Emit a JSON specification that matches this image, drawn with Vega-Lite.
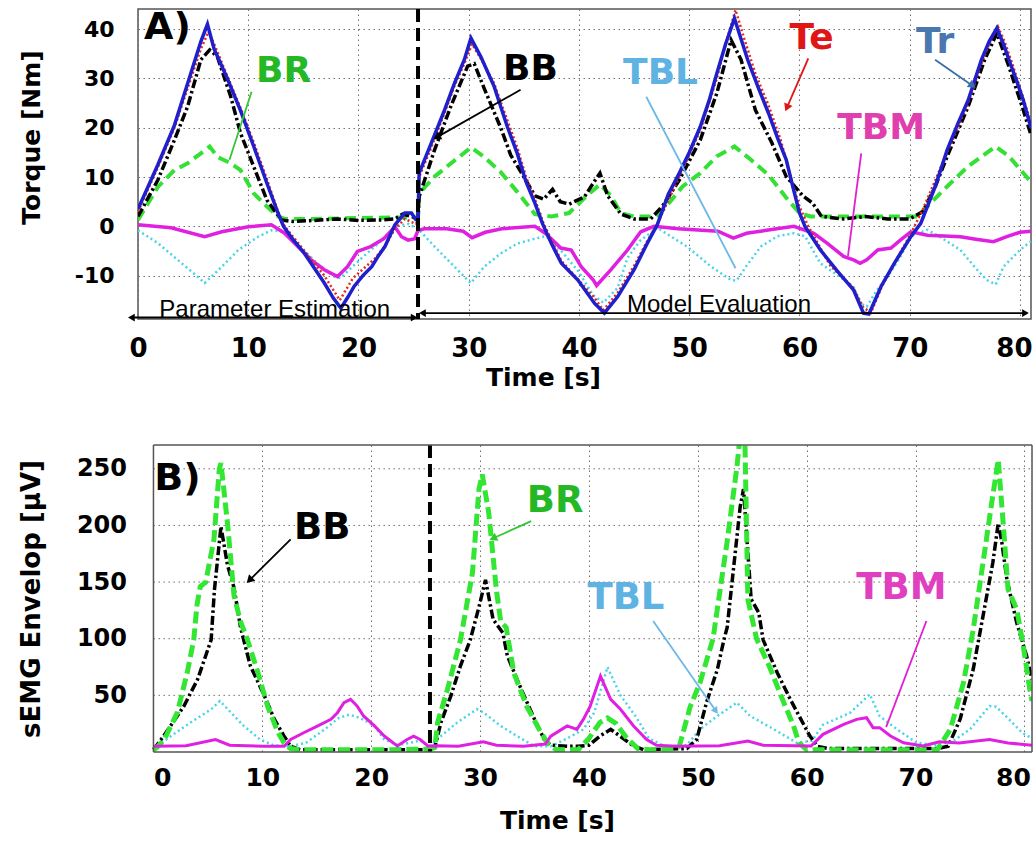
{
  "$schema": "https://vega.github.io/schema/vega-lite/v6.json",
  "padding": {"left": 17, "top": 6, "right": 0, "bottom": 0},
  "spacing": 52,
  "columns": 1,
  "resolve": {"scale": {"x": "independent", "y": "independent", "fill": "independent", "stroke": "independent"}},
  "config": {
    "font": "DejaVu Sans",
    "view": {"stroke": "#555555", "strokeWidth": 1.5},
    "axis": {
      "grid": true, "gridColor": "#707070", "gridDash": [1.5, 3.5], "gridWidth": 1,
      "domain": false, "ticks": false, "labelFlush": false, "labelOverlap": false,
      "labelFont": "DejaVu Sans", "labelFontWeight": "bold", "labelColor": "#000",
      "titleFont": "DejaVu Sans", "titleFontWeight": "bold", "titleColor": "#000"
    }
  },
  "datasets": {
    "A_Tr": [{"t":0,"v":3.5},{"t":1,"v":8.5},{"t":1.8,"v":12.5},{"t":3.3,"v":20.5},{"t":4.5,"v":29},{"t":5.7,"v":37.5},{"t":6.3,"v":41},{"t":6.9,"v":36},{"t":8.1,"v":30},{"t":9.3,"v":23.5},{"t":10.5,"v":16.2},{"t":11.7,"v":8.7},{"t":12.7,"v":2.7},{"t":13.2,"v":0},{"t":14,"v":-2.5},{"t":15.1,"v":-5.5},{"t":16,"v":-8.5},{"t":16.9,"v":-11.5},{"t":17.7,"v":-14.5},{"t":18.4,"v":-16.6},{"t":19,"v":-14.5},{"t":19.6,"v":-12.2},{"t":20.4,"v":-10},{"t":21.2,"v":-8.2},{"t":21.8,"v":-6},{"t":22.4,"v":-4.1},{"t":23.3,"v":0.3},{"t":24.2,"v":2.7},{"t":24.8,"v":2.7},{"t":25.2,"v":1.4},{"t":25.4,"v":1.5},{"t":25.5,"v":10.8},{"t":26.6,"v":16.9},{"t":27.8,"v":23.6},{"t":28.7,"v":29},{"t":29.6,"v":33.8},{"t":30.2,"v":38.2},{"t":31.1,"v":34.4},{"t":32.3,"v":28.4},{"t":33.5,"v":20.2},{"t":34.4,"v":14.8},{"t":35.2,"v":9},{"t":36,"v":4.7},{"t":36.7,"v":0.5},{"t":37.5,"v":-3.5},{"t":38.4,"v":-7.5},{"t":39.9,"v":-10.9},{"t":41.4,"v":-15.6},{"t":42.3,"v":-17.6},{"t":43.5,"v":-14.3},{"t":45,"v":-8.8},{"t":46.2,"v":-3.4},{"t":47.1,"v":0.3},{"t":48.1,"v":6.5},{"t":49.1,"v":10.8},{"t":50,"v":15},{"t":51,"v":20.2},{"t":51.8,"v":25.5},{"t":52.5,"v":31},{"t":53.3,"v":37},{"t":54.1,"v":42.2},{"t":54.7,"v":38},{"t":55.3,"v":33.8},{"t":56.2,"v":28.5},{"t":57.2,"v":22.9},{"t":58,"v":18},{"t":58.8,"v":13.5},{"t":59.4,"v":8},{"t":60,"v":2.7},{"t":60.5,"v":0},{"t":61.9,"v":-4.8},{"t":63.4,"v":-9},{"t":64.9,"v":-12.9},{"t":65.8,"v":-17.6},{"t":66.3,"v":-17.8},{"t":67.4,"v":-12.2},{"t":68.6,"v":-7.5},{"t":70.1,"v":-2.1},{"t":71,"v":0.6},{"t":72.3,"v":8},{"t":73.4,"v":15.5},{"t":74.3,"v":20.5},{"t":75.3,"v":25.6},{"t":76.5,"v":33.8},{"t":77.2,"v":37.5},{"t":77.9,"v":40.2},{"t":78.5,"v":37},{"t":79,"v":33.8},{"t":79.7,"v":29.5},{"t":80.3,"v":25.6},{"t":81,"v":20}],
    "A_Te": [{"t":0,"v":3},{"t":1.8,"v":12},{"t":3.3,"v":20},{"t":4.5,"v":28},{"t":5.7,"v":36},{"t":6.4,"v":39.5},{"t":7,"v":36.5},{"t":8.1,"v":30.5},{"t":9.3,"v":24},{"t":10.5,"v":17},{"t":11.7,"v":9.5},{"t":12.7,"v":3},{"t":13.3,"v":0},{"t":15.1,"v":-5},{"t":16.9,"v":-10},{"t":18.3,"v":-15},{"t":19.5,"v":-10.5},{"t":20.5,"v":-8.5},{"t":21.5,"v":-6.5},{"t":22.4,"v":-4},{"t":23.3,"v":-0.5},{"t":24.2,"v":1.5},{"t":25.2,"v":0.5},{"t":25.4,"v":1},{"t":25.5,"v":10},{"t":26.6,"v":16},{"t":27.8,"v":23},{"t":28.7,"v":28.5},{"t":29.6,"v":33},{"t":30.3,"v":37},{"t":31.1,"v":34},{"t":32.3,"v":29},{"t":33.5,"v":21.5},{"t":34.4,"v":16},{"t":35.2,"v":10},{"t":36,"v":5.5},{"t":36.8,"v":0.5},{"t":38.4,"v":-7},{"t":40,"v":-11},{"t":41.4,"v":-14.5},{"t":42.2,"v":-17},{"t":43.5,"v":-13.5},{"t":45,"v":-8},{"t":46.2,"v":-3},{"t":47.1,"v":0.5},{"t":49.1,"v":10},{"t":51,"v":19.5},{"t":52.5,"v":30},{"t":53.3,"v":37},{"t":54.2,"v":43.9},{"t":55,"v":38},{"t":56,"v":31},{"t":57.2,"v":24.5},{"t":58.3,"v":17.5},{"t":59.2,"v":10},{"t":60,"v":4},{"t":60.8,"v":0},{"t":62.8,"v":-8},{"t":64.9,"v":-12.5},{"t":65.8,"v":-16.5},{"t":66.5,"v":-17.5},{"t":67.4,"v":-12.5},{"t":68.6,"v":-7.5},{"t":70.1,"v":-1.5},{"t":71.2,"v":3.5},{"t":73.4,"v":15},{"t":75.3,"v":25},{"t":76.5,"v":33},{"t":77.3,"v":37.5},{"t":78,"v":40.5},{"t":78.6,"v":37.5},{"t":79.3,"v":33},{"t":80.3,"v":26},{"t":81,"v":21}],
    "A_BB": [{"t":0,"v":2},{"t":1.8,"v":9.4},{"t":3.3,"v":17.5},{"t":4.5,"v":24.3},{"t":5.7,"v":33.8},{"t":6.5,"v":35.8},{"t":7.2,"v":34.4},{"t":8.4,"v":26.4},{"t":9.3,"v":18.9},{"t":10.5,"v":12.1},{"t":11.7,"v":5.3},{"t":13,"v":1.3},{"t":14,"v":1},{"t":16,"v":1.2},{"t":18,"v":1.5},{"t":20,"v":1.2},{"t":22,"v":1.3},{"t":23.3,"v":1.5},{"t":24,"v":2.5},{"t":24.8,"v":2},{"t":25.4,"v":1.5},{"t":25.5,"v":6},{"t":26.9,"v":15.5},{"t":28.4,"v":24.5},{"t":29.9,"v":32.5},{"t":30.5,"v":33},{"t":31.4,"v":28},{"t":32.9,"v":20},{"t":33.8,"v":14.5},{"t":34.8,"v":10.8},{"t":36,"v":6.2},{"t":36.8,"v":5.5},{"t":37.6,"v":7.5},{"t":38.3,"v":5},{"t":39.1,"v":4.5},{"t":40.5,"v":6},{"t":41.3,"v":8.8},{"t":41.9,"v":10.8},{"t":42.6,"v":6.2},{"t":43.8,"v":2.5},{"t":45,"v":1.5},{"t":46.5,"v":1.5},{"t":47.6,"v":4.2},{"t":49.1,"v":9.4},{"t":51,"v":17.5},{"t":52.5,"v":27},{"t":53.8,"v":37.8},{"t":54.7,"v":33.8},{"t":56,"v":23.6},{"t":57.5,"v":16.9},{"t":58.8,"v":10.1},{"t":60.3,"v":6.2},{"t":61.2,"v":4.7},{"t":62,"v":2},{"t":64,"v":1.5},{"t":66,"v":2},{"t":68,"v":1.5},{"t":70,"v":1.5},{"t":71.2,"v":3},{"t":72.3,"v":8},{"t":73.4,"v":14.2},{"t":75.3,"v":24.3},{"t":76.8,"v":33.8},{"t":77.9,"v":39.2},{"t":79,"v":32.4},{"t":80.3,"v":23.6},{"t":81,"v":18.5}],
    "A_BR": [{"t":0,"v":1.3},{"t":1.8,"v":8},{"t":3.3,"v":11.4},{"t":4.5,"v":12.8},{"t":5.7,"v":14.8},{"t":6.5,"v":16.2},{"t":7.2,"v":14.1},{"t":8.4,"v":12.8},{"t":9.3,"v":11.4},{"t":10.5,"v":6.7},{"t":11.7,"v":4},{"t":12.7,"v":2},{"t":13.3,"v":1.5},{"t":16,"v":1.5},{"t":20,"v":1.7},{"t":24,"v":1.8},{"t":25.4,"v":1.8},{"t":25.5,"v":6.7},{"t":26.9,"v":10.1},{"t":28.4,"v":12.8},{"t":30.2,"v":16},{"t":31.4,"v":14.1},{"t":32.9,"v":11},{"t":34.4,"v":7},{"t":36,"v":2.5},{"t":37.5,"v":2},{"t":39.1,"v":2.7},{"t":40.7,"v":6.2},{"t":41.9,"v":8.5},{"t":42.9,"v":6.2},{"t":43.8,"v":2.7},{"t":45,"v":2},{"t":47,"v":2},{"t":47.9,"v":4},{"t":49.4,"v":8.1},{"t":51,"v":10.8},{"t":52.5,"v":14.2},{"t":54.1,"v":16.2},{"t":55.6,"v":13.5},{"t":57.2,"v":10.4},{"t":58.8,"v":5.8},{"t":60,"v":2.7},{"t":61,"v":2},{"t":65,"v":2},{"t":70.7,"v":2},{"t":72.5,"v":6.1},{"t":73.4,"v":8.1},{"t":75.3,"v":12.2},{"t":77.8,"v":16.2},{"t":79,"v":14.2},{"t":81,"v":9}],
    "A_TBL": [{"t":0,"v":-0.8},{"t":1.8,"v":-3.4},{"t":3.6,"v":-6.8},{"t":5.4,"v":-10.2},{"t":6.05,"v":-11.5},{"t":7.6,"v":-8.2},{"t":9.1,"v":-4.8},{"t":10.9,"v":-2.1},{"t":12.1,"v":-0.8},{"t":13,"v":-1},{"t":14,"v":-2.5},{"t":15.1,"v":-5},{"t":16.5,"v":-8},{"t":17.8,"v":-10.2},{"t":18.4,"v":-10.5},{"t":19.3,"v":-8.5},{"t":20.5,"v":-6},{"t":21.8,"v":-3.5},{"t":23.3,"v":0},{"t":24.5,"v":0.5},{"t":25.4,"v":-0.5},{"t":26.9,"v":-4.1},{"t":28.4,"v":-7.5},{"t":29.9,"v":-10.9},{"t":30.2,"v":-11.5},{"t":31.4,"v":-8.2},{"t":32.9,"v":-5.5},{"t":34.4,"v":-3.5},{"t":36,"v":-2.5},{"t":37,"v":-2},{"t":38.4,"v":-5},{"t":39.9,"v":-9},{"t":41.3,"v":-14},{"t":42.2,"v":-15.5},{"t":43.5,"v":-12.5},{"t":44.4,"v":-6.4},{"t":45.5,"v":-3},{"t":47.1,"v":-0.3},{"t":49.8,"v":-4.1},{"t":52,"v":-8.2},{"t":53.8,"v":-10.9},{"t":54.3,"v":-11},{"t":55.2,"v":-8},{"t":56.5,"v":-4.1},{"t":58,"v":-2},{"t":59.5,"v":-1.4},{"t":60.5,"v":-2},{"t":61.9,"v":-7.5},{"t":63.5,"v":-10},{"t":64.9,"v":-12.2},{"t":65.5,"v":-15.6},{"t":66.1,"v":-16.3},{"t":67,"v":-13},{"t":68,"v":-10.2},{"t":69.2,"v":-6},{"t":70.1,"v":-2},{"t":71.6,"v":-0.7},{"t":73,"v":-2.5},{"t":74.6,"v":-4.8},{"t":76.1,"v":-8.8},{"t":77,"v":-10.9},{"t":77.8,"v":-11.8},{"t":78.5,"v":-8.2},{"t":80,"v":-4.8},{"t":81,"v":-3}],
    "A_TBM": [{"t":0,"v":0.3},{"t":3,"v":-0.3},{"t":6.05,"v":-2.1},{"t":7.6,"v":-1.1},{"t":10,"v":-0.1},{"t":12.1,"v":0.3},{"t":13.3,"v":-1.4},{"t":14.5,"v":-4.1},{"t":15.7,"v":-6.8},{"t":16.9,"v":-8.8},{"t":18.1,"v":-10.2},{"t":19,"v":-8.2},{"t":19.9,"v":-5.1},{"t":21.1,"v":-4.1},{"t":22.3,"v":-2.5},{"t":23.3,"v":-0.1},{"t":23.9,"v":-2.1},{"t":24.5,"v":-2.8},{"t":25.1,"v":-2.5},{"t":25.4,"v":-0.8},{"t":26,"v":-0.5},{"t":28,"v":-0.5},{"t":29.5,"v":-1},{"t":30.3,"v":-2.3},{"t":31.5,"v":-1.2},{"t":33,"v":-0.5},{"t":36,"v":0},{"t":37,"v":-1.5},{"t":38.35,"v":-4.4},{"t":39.3,"v":-4.8},{"t":40.2,"v":-8.2},{"t":41.3,"v":-10.9},{"t":41.6,"v":-12},{"t":42.9,"v":-8.8},{"t":44.4,"v":-4.8},{"t":45.6,"v":-1.1},{"t":46.8,"v":0},{"t":49,"v":-0.5},{"t":52.6,"v":-1},{"t":54,"v":-2.4},{"t":55.2,"v":-1.4},{"t":57,"v":-0.8},{"t":59.5,"v":0},{"t":61.3,"v":-1.4},{"t":62.5,"v":-3.4},{"t":64,"v":-6.1},{"t":64.9,"v":-6.8},{"t":65.5,"v":-7.5},{"t":66.1,"v":-6.8},{"t":67.1,"v":-4.8},{"t":68.3,"v":-4.4},{"t":69.2,"v":-2.7},{"t":70.1,"v":-1.1},{"t":71.6,"v":-1.8},{"t":74.6,"v":-2.1},{"t":76,"v":-2.6},{"t":77.6,"v":-3.1},{"t":78.8,"v":-2.1},{"t":80,"v":-1.2},{"t":81,"v":-1}],
    "B_BR": [{"t":0,"v":2},{"t":0.3,"v":4},{"t":1,"v":11},{"t":2.2,"v":35},{"t":3.1,"v":70},{"t":3.7,"v":99},{"t":4,"v":130},{"t":4.3,"v":146},{"t":4.8,"v":150},{"t":5.56,"v":188},{"t":6.05,"v":250},{"t":6.2,"v":255},{"t":6.8,"v":202},{"t":7.4,"v":138},{"t":8,"v":115},{"t":8.6,"v":100},{"t":9.6,"v":70},{"t":10.5,"v":40},{"t":11.4,"v":18},{"t":12,"v":8},{"t":12.6,"v":3},{"t":13.5,"v":2},{"t":18,"v":2},{"t":22,"v":2},{"t":25.4,"v":2.5},{"t":25.85,"v":4},{"t":26.1,"v":26},{"t":27,"v":55},{"t":27.9,"v":88},{"t":28.2,"v":99},{"t":29.3,"v":158},{"t":29.9,"v":232},{"t":30.2,"v":245},{"t":30.8,"v":211},{"t":31.5,"v":143},{"t":31.9,"v":115},{"t":32.4,"v":110},{"t":33.1,"v":70},{"t":34.3,"v":40},{"t":35.6,"v":17},{"t":36.2,"v":8},{"t":37,"v":2},{"t":39,"v":2},{"t":40,"v":12},{"t":41,"v":26},{"t":41.7,"v":30},{"t":42.5,"v":25},{"t":43.5,"v":12},{"t":44.5,"v":3},{"t":45.5,"v":2},{"t":48,"v":3},{"t":48.3,"v":5},{"t":49.3,"v":40},{"t":50.2,"v":61},{"t":51.4,"v":100},{"t":52.7,"v":186},{"t":53.6,"v":252},{"t":54,"v":290},{"t":54.3,"v":290},{"t":54.6,"v":134.7},{"t":55.4,"v":100},{"t":56.6,"v":75},{"t":57.9,"v":43.6},{"t":58.8,"v":23},{"t":59.3,"v":8},{"t":60,"v":2},{"t":66,"v":2},{"t":72,"v":2},{"t":73.2,"v":20},{"t":74.4,"v":61},{"t":75.3,"v":108},{"t":76.2,"v":167},{"t":77,"v":220},{"t":77.6,"v":258},{"t":78.1,"v":196},{"t":78.5,"v":143.5},{"t":79.3,"v":126},{"t":79.9,"v":93.5},{"t":80.5,"v":55},{"t":80.7,"v":45}],
    "B_BB": [{"t":0,"v":2},{"t":0.7,"v":11},{"t":1.5,"v":22},{"t":2.8,"v":40.6},{"t":4.05,"v":64},{"t":5.3,"v":99},{"t":5.6,"v":143},{"t":6.2,"v":199},{"t":6.8,"v":165},{"t":7.4,"v":145},{"t":8,"v":110},{"t":8.9,"v":76},{"t":10.2,"v":49.4},{"t":11.1,"v":29},{"t":12,"v":14},{"t":12.6,"v":5},{"t":13.5,"v":2},{"t":20,"v":2},{"t":25.4,"v":2},{"t":25.85,"v":4},{"t":26.4,"v":26},{"t":27.3,"v":49},{"t":28.2,"v":76},{"t":29.1,"v":99},{"t":29.9,"v":128},{"t":30.5,"v":152},{"t":31.2,"v":117},{"t":32.1,"v":105},{"t":32.5,"v":85},{"t":33.8,"v":55},{"t":35,"v":29},{"t":35.9,"v":11},{"t":36.5,"v":6},{"t":38,"v":5},{"t":39,"v":5},{"t":40,"v":6},{"t":41,"v":14},{"t":42,"v":20},{"t":43,"v":13},{"t":44,"v":6},{"t":45,"v":2},{"t":49,"v":3},{"t":49.9,"v":11},{"t":50.8,"v":43.6},{"t":51.8,"v":73},{"t":52.4,"v":99},{"t":52.7,"v":110},{"t":53.9,"v":217},{"t":54.2,"v":232},{"t":54.9,"v":135},{"t":55.6,"v":123},{"t":56,"v":99},{"t":57.3,"v":70},{"t":58.5,"v":46.5},{"t":59.3,"v":32},{"t":60.3,"v":14},{"t":61,"v":5},{"t":62,"v":3},{"t":72,"v":3},{"t":73,"v":5},{"t":74.1,"v":29},{"t":75.3,"v":73},{"t":76.2,"v":120},{"t":77.1,"v":167},{"t":77.6,"v":202},{"t":77.9,"v":187},{"t":78.4,"v":152},{"t":79.3,"v":114},{"t":80.2,"v":85},{"t":80.7,"v":64}],
    "B_TBL": [{"t":0,"v":3},{"t":1.6,"v":14},{"t":3.4,"v":26},{"t":5.3,"v":37.7},{"t":6.1,"v":45},{"t":7.1,"v":35},{"t":8.3,"v":23},{"t":9.8,"v":11},{"t":11,"v":6},{"t":12.5,"v":5},{"t":14,"v":8},{"t":15,"v":15},{"t":16,"v":22},{"t":17,"v":30},{"t":18,"v":33},{"t":19,"v":30},{"t":20.3,"v":23},{"t":21.2,"v":11},{"t":22.5,"v":6},{"t":23.5,"v":8},{"t":24.5,"v":10},{"t":25.4,"v":5},{"t":26.4,"v":14},{"t":27.9,"v":26},{"t":29.7,"v":37.7},{"t":30.3,"v":35},{"t":31.9,"v":23},{"t":33.4,"v":14},{"t":35,"v":5},{"t":36.5,"v":5},{"t":38,"v":12},{"t":39.5,"v":20},{"t":40.5,"v":35},{"t":41.7,"v":75},{"t":42.9,"v":50},{"t":44.4,"v":30},{"t":45.5,"v":12},{"t":47,"v":5},{"t":49,"v":6},{"t":50.2,"v":20},{"t":51.8,"v":31.8},{"t":53.6,"v":43.6},{"t":54.8,"v":31.8},{"t":57,"v":20},{"t":59.1,"v":8},{"t":60.5,"v":10},{"t":61.5,"v":24},{"t":64,"v":34.7},{"t":65.8,"v":50.9},{"t":66.7,"v":31.8},{"t":68.3,"v":20},{"t":70.1,"v":8.2},{"t":72,"v":6},{"t":73.5,"v":10},{"t":75,"v":20},{"t":76.8,"v":40.6},{"t":77.4,"v":40},{"t":78.6,"v":28.8},{"t":79.8,"v":17},{"t":80.7,"v":12}],
    "B_TBM": [{"t":0,"v":5},{"t":3,"v":5.5},{"t":5.7,"v":11},{"t":7,"v":6},{"t":10,"v":5},{"t":12,"v":5},{"t":12.6,"v":11},{"t":13.8,"v":17},{"t":15.1,"v":23},{"t":16.3,"v":28.8},{"t":16.9,"v":34.7},{"t":17.5,"v":43.6},{"t":18.1,"v":46.5},{"t":18.7,"v":40.6},{"t":19.3,"v":31.8},{"t":20.3,"v":23},{"t":21.2,"v":14.1},{"t":22.4,"v":5.3},{"t":23.3,"v":11},{"t":23.9,"v":14},{"t":24.5,"v":11},{"t":25.2,"v":5.3},{"t":26,"v":5.5},{"t":28,"v":5},{"t":30.3,"v":9},{"t":31.5,"v":6},{"t":34,"v":5},{"t":36,"v":7},{"t":36.5,"v":14},{"t":38,"v":23},{"t":38.9,"v":20},{"t":39.5,"v":29},{"t":40.1,"v":40},{"t":41.06,"v":67},{"t":42,"v":46.5},{"t":42.9,"v":37.7},{"t":44.1,"v":23},{"t":45.3,"v":11},{"t":46.2,"v":6},{"t":48,"v":5},{"t":52,"v":5.5},{"t":54.6,"v":9.7},{"t":56,"v":6},{"t":60.4,"v":5.3},{"t":61.5,"v":15.6},{"t":63.4,"v":24.4},{"t":64.6,"v":28.8},{"t":65.5,"v":30.3},{"t":66.1,"v":21.5},{"t":66.7,"v":21.5},{"t":67.7,"v":14.1},{"t":68.9,"v":8.2},{"t":70.7,"v":5.3},{"t":72.2,"v":9},{"t":74,"v":8},{"t":76.8,"v":11},{"t":78.5,"v":8},{"t":80.7,"v":6}],
    "annA": [
      {"label":"BR","t":13.2,"v":31.5,"pt":10.3,"pv":27.3,"pt2":8.3,"pv2":13.5},
      {"label":"BB","t":35.6,"v":32,"pt":34.7,"pv":27.7,"pt2":27.2,"pv2":18.2},
      {"label":"TBL","t":47.4,"v":31.2,"pt":46.1,"pv":26.3,"pt2":54.2,"pv2":-8.5},
      {"label":"Te","t":61.1,"v":38.2,"pt":60.8,"pv":34.1,"pt2":58.9,"pv2":24.3},
      {"label":"Tr","t":72.3,"v":37.4,"pt":72.3,"pv":33.8,"pt2":75.6,"pv2":28.7},
      {"label":"TBM","t":67.4,"v":19.9,"pt":65.6,"pv":14.8,"pt2":64.4,"pv2":-6}
    ],
    "annB": [
      {"label":"BB","t":15.5,"v":197.3,"pt":12.6,"pv":187.7,"pt2":8.9,"pv2":152.4},
      {"label":"BR","t":36.9,"v":221.4,"pt":34.7,"pv":203.8,"pt2":31.3,"pv2":189.1},
      {"label":"TBL","t":43.4,"v":136.2,"pt":45.9,"pv":115.6,"pt2":51.6,"pv2":37},
      {"label":"TBM","t":68.7,"v":144.4,"pt":71,"pv":115.6,"pt2":67.3,"pv2":22}
    ],
    "spans": [
      {"name":"Parameter Estimation","t":-0.6,"t2":25.05,"v":-18.5,"tt":12.4},
      {"name":"Model Evaluation","t":25.8,"t2":80.5,"v":-17.6,"tt":52.7}
    ]
  },
  "concat": [
    {
      "width": 893,
      "height": 310,
      "layer": [
        {
          "data": {"name": "A_TBL"},
          "mark": {"type": "line", "color": "#48d4e8", "strokeWidth": 2.5, "strokeDash": [2, 3], "clip": true},
          "encoding": {
            "x": {"field": "t", "type": "quantitative", "scale": {"domain": [0, 81], "nice": false, "zero": false},
                  "axis": {"values": [0,10,20,30,40,50,60,70,80], "title": "Time [s]", "labelFontSize": 26, "labelPadding": 16,
                           "labelAlign": {"condition": {"test": "datum.value === 80", "value": "right"}, "value": "center"},
                           "labelOffset": {"condition": {"test": "datum.value === 80", "value": 12}, "value": 0},
                           "titleFontSize": 25, "titleX": 405, "titleY": 58, "titleBaseline": "middle"}},
            "y": {"field": "v", "type": "quantitative", "scale": {"domain": [-18.8, 44.1], "nice": false, "zero": false},
                  "axis": {"values": [-10,0,10,20,30,40], "title": "Torque [Nm]", "labelFontSize": 22, "labelPadding": 24, "labelExpr": "datum.value < 0 ? '-' + abs(datum.value) : '' + datum.value", "titleFontSize": 25, "titleX": -107, "titleY": 128, "titleBaseline": "middle"}}
          }
        },
        {"data": {"name": "A_BR"}, "mark": {"type": "line", "color": "#33e033", "strokeWidth": 4, "strokeDash": [11, 6], "clip": true},
         "encoding": {"x": {"field": "t", "type": "quantitative"}, "y": {"field": "v", "type": "quantitative"}}},
        {"data": {"name": "A_TBM"}, "mark": {"type": "line", "color": "#e020e0", "strokeWidth": 3.5, "clip": true},
         "encoding": {"x": {"field": "t", "type": "quantitative"}, "y": {"field": "v", "type": "quantitative"}}},
        {"data": {"name": "A_BB"}, "mark": {"type": "line", "color": "#000000", "strokeWidth": 3.5, "strokeDash": [9, 3, 2.5, 3], "clip": true},
         "encoding": {"x": {"field": "t", "type": "quantitative"}, "y": {"field": "v", "type": "quantitative"}}},
        {"data": {"name": "A_Te"}, "mark": {"type": "line", "color": "#e8251a", "strokeWidth": 2.5, "strokeDash": [2, 2.5], "clip": true},
         "encoding": {"x": {"field": "t", "type": "quantitative"}, "y": {"field": "v", "type": "quantitative"}}},
        {"data": {"name": "A_Tr"}, "mark": {"type": "line", "color": "#1f1fcc", "strokeWidth": 3.5, "clip": true},
         "encoding": {"x": {"field": "t", "type": "quantitative"}, "y": {"field": "v", "type": "quantitative"}}},
        {"data": {"values": [{"t": 25.4}]}, "mark": {"type": "rule", "color": "#000000", "strokeWidth": 4, "strokeDash": [13, 6]},
         "encoding": {"x": {"field": "t", "type": "quantitative"}}},
        {"data": {"name": "annA"}, "mark": {"type": "rule", "strokeWidth": 1.8},
         "encoding": {"x": {"field": "pt", "type": "quantitative"}, "y": {"field": "pv", "type": "quantitative"},
                      "x2": {"field": "pt2"}, "y2": {"field": "pv2"},
                      "stroke": {"field": "label", "type": "nominal", "legend": null,
                                 "scale": {"domain": ["BR","BB","TBL","Te","Tr","TBM"], "range": ["#33c733","#000000","#6cb8e6","#e01515","#3b6ea8","#e020d0"]}}}},
        {"data": {"name": "annA"}, "transform": [{"filter": "datum.label === 'BB'"}], "mark": {"type": "point", "shape": "triangle", "filled": true, "opacity": 1, "size": 80, "angle": 240, "color": "#000000"},
         "encoding": {"x": {"field": "pt2", "type": "quantitative"}, "y": {"field": "pv2", "type": "quantitative"}}},
        {"data": {"name": "annA"}, "transform": [{"filter": "datum.label === 'Te'"}], "mark": {"type": "point", "shape": "triangle", "filled": true, "opacity": 1, "size": 80, "angle": 203, "color": "#e01515"},
         "encoding": {"x": {"field": "pt2", "type": "quantitative"}, "y": {"field": "pv2", "type": "quantitative"}}},
        {"data": {"name": "annA"}, "transform": [{"filter": "datum.label === 'Tr'"}], "mark": {"type": "point", "shape": "triangle", "filled": true, "opacity": 1, "size": 80, "angle": 125, "color": "#3b6ea8"},
         "encoding": {"x": {"field": "pt2", "type": "quantitative"}, "y": {"field": "pv2", "type": "quantitative"}}},
        {"data": {"name": "annA"}, "mark": {"type": "text", "fontSize": 36, "fontWeight": "bold", "font": "DejaVu Sans", "align": "center", "baseline": "middle"},
         "encoding": {"x": {"field": "t", "type": "quantitative"}, "y": {"field": "v", "type": "quantitative"}, "text": {"field": "label"},
                      "fill": {"field": "label", "type": "nominal", "legend": null,
                               "scale": {"domain": ["BR","BB","TBL","Te","Tr","TBM"], "range": ["#25b825","#000000","#5fb3e3","#e01515","#4a77ad","#e03fae"]}}}},
        {"data": {"values": [{"label": "A)", "t": 2.67, "v": 40.2}]}, "mark": {"type": "text", "fontSize": 38, "fontWeight": "bold", "font": "DejaVu Sans", "align": "center", "baseline": "middle", "color": "#000000"},
         "encoding": {"x": {"field": "t", "type": "quantitative"}, "y": {"field": "v", "type": "quantitative"}, "text": {"field": "label"}}},
        {"data": {"name": "spans"}, "mark": {"type": "rule", "color": "#000000", "strokeWidth": 1.8},
         "encoding": {"x": {"field": "t", "type": "quantitative"}, "x2": {"field": "t2"}, "y": {"field": "v", "type": "quantitative"}}},
        {"data": {"name": "spans"}, "mark": {"type": "point", "shape": "triangle-left", "filled": true, "opacity": 1, "size": 60, "color": "#000000"},
         "encoding": {"x": {"field": "t", "type": "quantitative"}, "y": {"field": "v", "type": "quantitative"}}},
        {"data": {"name": "spans"}, "mark": {"type": "point", "shape": "triangle-right", "filled": true, "opacity": 1, "size": 60, "color": "#000000"},
         "encoding": {"x": {"field": "t2", "type": "quantitative"}, "y": {"field": "v", "type": "quantitative"}}},
        {"data": {"name": "spans"}, "mark": {"type": "text", "fontSize": 24, "font": "Liberation Sans", "align": "center", "baseline": "alphabetic", "color": "#000000", "dy": -1},
         "encoding": {"x": {"field": "tt", "type": "quantitative"}, "y": {"field": "v", "type": "quantitative"}, "text": {"field": "name"}}}
      ]
    },
    {
      "width": 894,
      "height": 307,
      "view": {"stroke": null},
      "layer": [
        {"data": {"values": [{"v": 50}, {"v": 100}, {"v": 150}, {"v": 200}, {"v": 250}]},
         "mark": {"type": "rule", "color": "#707070", "strokeWidth": 1, "strokeDash": [1.5, 3.5]},
         "encoding": {"y": {"field": "v", "type": "quantitative"}, "x": {"datum": 0, "type": "quantitative"}, "x2": {"datum": 80.7}}},
        {
          "data": {"name": "B_TBL"},
          "mark": {"type": "line", "color": "#48d4e8", "strokeWidth": 2.5, "strokeDash": [2, 3], "clip": true},
          "encoding": {
            "x": {"field": "t", "type": "quantitative", "scale": {"domain": [-1.42, 80.7], "nice": false, "zero": false},
                  "axis": {"values": [0,10,20,30,40,50,60,70,80], "title": "Time [s]", "labelFontSize": 25, "labelPadding": 13,
                           "labelAlign": {"condition": [{"test": "datum.value === 0", "value": "left"}, {"test": "datum.value === 80", "value": "right"}], "value": "center"},
                           "labelOffset": {"condition": {"test": "datum.value === 80", "value": 6}, "value": 0},
                           "titleFontSize": 25, "titleX": 419, "titleY": 68, "titleBaseline": "middle"}},
            "y": {"field": "v", "type": "quantitative", "scale": {"domain": [0, 271], "nice": false, "zero": false},
                  "axis": {"values": [50,100,150,200,250], "title": "sEMG Envelop [μV]", "grid": false, "offset": -15.5, "labelFontSize": 24, "labelPadding": 27, "titleFontSize": 26, "titleX": -122.5, "titleBaseline": "middle"}}
          }
        },
        {"data": {"name": "B_BB"}, "mark": {"type": "line", "color": "#000000", "strokeWidth": 3.5, "strokeDash": [9, 3, 2.5, 3], "clip": true},
         "encoding": {"x": {"field": "t", "type": "quantitative"}, "y": {"field": "v", "type": "quantitative"}}},
        {"data": {"name": "B_BR"}, "mark": {"type": "line", "color": "#33e633", "strokeWidth": 5, "strokeDash": [12, 5], "clip": true},
         "encoding": {"x": {"field": "t", "type": "quantitative"}, "y": {"field": "v", "type": "quantitative"}}},
        {"data": {"name": "B_TBM"}, "mark": {"type": "line", "color": "#e020e0", "strokeWidth": 3, "clip": true},
         "encoding": {"x": {"field": "t", "type": "quantitative"}, "y": {"field": "v", "type": "quantitative"}}},
        {"data": {"values": [{"t": 25.4}]}, "mark": {"type": "rule", "color": "#000000", "strokeWidth": 4, "strokeDash": [13, 6]},
         "encoding": {"x": {"field": "t", "type": "quantitative"}}},
        {"data": {"values": [{"t": 0}, {"t": 80.7}]}, "mark": {"type": "rule", "color": "#555555", "strokeWidth": 1.5},
         "encoding": {"x": {"field": "t", "type": "quantitative"}}},
        {"data": {"values": [{"v": 0}, {"v": 271}]}, "mark": {"type": "rule", "color": "#555555", "strokeWidth": 1.5},
         "encoding": {"y": {"field": "v", "type": "quantitative"}, "x": {"datum": 0, "type": "quantitative"}, "x2": {"datum": 80.7}}},
        {"data": {"name": "annB"}, "mark": {"type": "rule", "strokeWidth": 1.8},
         "encoding": {"x": {"field": "pt", "type": "quantitative"}, "y": {"field": "pv", "type": "quantitative"},
                      "x2": {"field": "pt2"}, "y2": {"field": "pv2"},
                      "stroke": {"field": "label", "type": "nominal", "legend": null,
                                 "scale": {"domain": ["BR","BB","TBL","TBM"], "range": ["#33c733","#000000","#6cb8e6","#e020d0"]}}}},
        {"data": {"name": "annB"}, "transform": [{"filter": "datum.label === 'BB'"}], "mark": {"type": "point", "shape": "triangle", "filled": true, "opacity": 1, "size": 80, "angle": 225, "color": "#000000"},
         "encoding": {"x": {"field": "pt2", "type": "quantitative"}, "y": {"field": "pv2", "type": "quantitative"}}},
        {"data": {"name": "annB"}, "transform": [{"filter": "datum.label === 'BR'"}], "mark": {"type": "point", "shape": "triangle", "filled": true, "opacity": 1, "size": 80, "angle": 246, "color": "#33c733"},
         "encoding": {"x": {"field": "pt2", "type": "quantitative"}, "y": {"field": "pv2", "type": "quantitative"}}},
        {"data": {"name": "annB"}, "transform": [{"filter": "datum.label === 'TBL'"}], "mark": {"type": "point", "shape": "triangle", "filled": true, "opacity": 1, "size": 60, "angle": 145, "color": "#6cb8e6"},
         "encoding": {"x": {"field": "pt2", "type": "quantitative"}, "y": {"field": "pv2", "type": "quantitative"}}},
        {"data": {"name": "annB"}, "mark": {"type": "text", "fontSize": 37, "fontWeight": "bold", "font": "DejaVu Sans", "align": "center", "baseline": "middle"},
         "encoding": {"x": {"field": "t", "type": "quantitative"}, "y": {"field": "v", "type": "quantitative"}, "text": {"field": "label"},
                      "fill": {"field": "label", "type": "nominal", "legend": null,
                               "scale": {"domain": ["BR","BB","TBL","TBM"], "range": ["#25b825","#000000","#5fb3e3","#e03fc0"]}}}},
        {"data": {"values": [{"label": "B)", "t": 2.2, "v": 240.6}]}, "mark": {"type": "text", "fontSize": 38, "fontWeight": "bold", "font": "DejaVu Sans", "align": "center", "baseline": "middle", "color": "#000000"},
         "encoding": {"x": {"field": "t", "type": "quantitative"}, "y": {"field": "v", "type": "quantitative"}, "text": {"field": "label"}}}
      ]
    }
  ]
}
